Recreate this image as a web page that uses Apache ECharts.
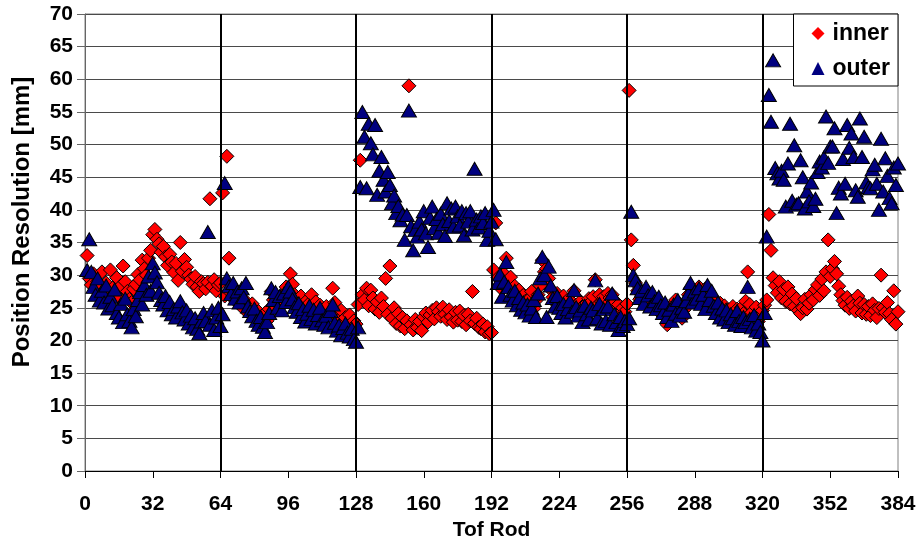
<!DOCTYPE html>
<html>
<head>
<meta charset="utf-8">
<title>Tof Rod Position Resolution</title>
<script src="https://cdn.jsdelivr.net/npm/echarts@6/dist/echarts.min.js"></script>
<style>
  html, body { margin: 0; padding: 0; background: #fff; }
  #chart { width: 920px; height: 547px; }
</style>
</head>
<body>
<div id="chart"></div>
<script>
// Position resolution per TOF rod (rods 1..384), inner and outer readout
const innerRes = [
  33.0, 29.5, 28.5, 30.2, 27.8, 29.0, 28.3, 30.5, 27.6, 28.8, 26.9, 30.8, 28.0, 27.2, 29.6, 26.5,
  28.4, 31.4, 29.0, 27.5, 26.3, 25.8, 27.9, 28.6, 30.1, 29.3, 32.3, 31.0, 30.0, 32.6, 33.8, 36.2,
  37.0, 35.5, 34.8, 33.5, 34.4, 32.8, 31.5, 33.2, 32.0, 30.4, 31.8, 29.2, 35.0, 30.6, 32.4, 31.2,
  30.0, 29.4, 28.6, 29.8, 28.2, 27.5, 29.0, 28.7, 27.9, 28.9, 41.7, 28.3, 29.3, 27.6, 28.5, 28.8,
  42.6, 26.8, 48.2, 32.6, 27.2, 26.4, 27.0, 25.8, 26.3, 25.5, 24.8, 26.0, 25.2, 24.6, 25.6, 24.3,
  23.8, 24.4, 23.6, 22.8, 24.2, 23.0, 24.8, 27.5, 26.2, 25.0, 26.6, 25.4, 27.0, 26.0, 28.2, 27.3,
  30.2, 28.6, 27.0, 26.1, 25.5, 26.8, 25.2, 24.6, 26.2, 25.7, 27.0, 24.8, 25.9, 24.2, 25.4, 23.9,
  24.7, 25.2, 23.6, 24.4, 28.0, 25.8, 24.1, 23.2, 24.6, 22.8, 23.5, 22.4, 23.9, 22.1, 23.0, 22.5,
  25.5, 47.6, 27.0, 26.2, 28.0, 25.3, 27.7, 26.5, 24.8, 25.9, 24.3, 26.5, 25.2, 29.5, 24.0, 31.4,
  23.4, 25.0, 22.6, 24.1, 22.2, 23.5, 21.8, 23.0, 59.0, 22.4, 21.6, 23.2, 22.0, 22.9, 21.5, 23.6,
  24.2, 22.8, 23.9, 24.6, 23.3, 25.0, 24.4, 23.7, 25.1, 24.0, 23.2, 24.7, 23.6, 22.8, 24.3, 23.1,
  24.5, 22.9, 23.8, 22.4, 24.0, 23.0, 27.5, 22.6, 23.4, 22.0, 21.8, 22.5, 21.3, 22.1, 21.0, 21.2,
  30.8, 38.0, 29.6, 28.5, 27.8, 30.2, 32.6, 28.9, 29.7, 27.4, 28.3, 26.5, 27.7, 25.6, 26.9, 26.0,
  25.3, 26.4, 27.5, 24.9, 26.1, 27.0, 28.4, 32.3, 30.5, 31.0, 29.5, 27.8, 26.6, 25.8, 27.2, 26.3,
  25.5, 26.8, 25.0, 26.2, 24.7, 25.9, 27.6, 25.4, 24.8, 26.0, 25.2, 24.5, 25.7, 26.4, 25.9, 26.7,
  29.3, 25.4, 27.0, 25.9, 26.7, 25.3, 27.2, 26.5, 27.0, 25.8, 24.6, 25.5, 24.2, 25.0, 24.4, 25.6,
  58.3, 35.4, 31.5, 28.8, 27.6, 26.3, 27.2, 25.9, 26.8, 27.4, 25.5, 26.6, 25.0, 26.2, 24.4, 25.6,
  24.8, 23.6, 22.4, 24.0, 25.3, 24.6, 26.2, 25.1, 24.3, 23.4, 24.7, 25.8, 27.0, 28.0, 26.4, 27.5,
  26.8, 28.2, 27.3, 26.5, 27.9, 25.8, 26.9, 25.4, 26.3, 25.0, 24.6, 25.7, 24.2, 25.3, 24.7, 23.9,
  24.5, 25.2, 23.8, 24.8, 23.5, 25.0, 24.1, 26.0, 30.5, 25.5, 24.3, 23.6, 25.1, 22.9, 23.8, 24.6,
  25.4, 26.2, 39.3, 33.8, 29.6, 28.4, 27.3, 29.0, 26.5, 27.8, 26.0, 28.2, 25.6, 27.1, 25.2, 26.4,
  24.6, 24.1, 25.0, 26.3, 24.8, 25.7, 27.0, 26.2, 27.8, 28.5, 26.9, 29.4, 27.6, 30.5, 35.4, 29.8,
  31.0, 32.1, 30.2, 28.3, 27.0, 26.1, 25.4, 26.6, 24.9, 26.0, 25.3, 24.5, 26.8, 25.7, 24.2, 25.5,
  24.0, 25.2, 23.8, 25.6, 24.6, 23.5, 24.9, 30.0, 25.0, 24.3, 25.8, 24.1, 23.2, 27.6, 22.5, 24.4
];

const outerRes = [
  30.8, 35.5, 30.5, 28.2, 27.0, 29.5, 26.1, 27.6, 25.8, 28.4, 24.9, 26.7, 25.4, 27.8, 24.2, 23.5,
  25.6, 22.8, 26.4, 24.0, 23.0, 22.0, 24.8, 23.7, 26.2, 27.4, 25.5, 28.5, 27.0, 29.8, 27.6, 31.8,
  30.4, 28.9, 27.3, 26.2, 25.5, 26.8, 24.6, 25.9, 24.0, 24.8, 23.5, 25.2, 26.0, 24.3, 23.2, 24.6,
  22.6, 23.8, 22.0, 23.4, 21.8, 21.1, 22.9, 24.2, 23.0, 36.6, 22.4, 24.6, 21.6, 23.5, 25.0, 22.2,
  24.0, 44.1, 29.5, 28.3, 27.1, 28.8, 26.4, 27.5, 25.8, 28.0, 26.6, 28.8, 25.2, 24.5, 23.7, 24.9,
  23.0, 22.4, 23.6, 22.1, 21.3, 22.8, 24.2, 28.0, 26.2, 27.4, 25.0, 26.8, 24.6, 27.2, 25.9, 28.2,
  27.5, 26.3, 25.1, 24.4, 25.7, 23.6, 24.8, 22.9, 24.1, 25.3, 23.3, 24.7, 22.6, 23.9, 25.0, 23.1,
  22.4, 23.8, 22.0, 24.5, 25.5, 22.7, 21.5, 22.3, 20.8, 21.9, 22.6, 21.2, 20.6, 21.8, 20.2, 19.8,
  22.0, 43.5, 55.0, 51.2, 43.3, 53.2, 50.2, 48.5, 53.0, 42.3, 46.0, 48.1, 44.6, 42.8, 45.8, 43.8,
  41.0, 42.2, 39.5, 40.6, 38.4, 39.3, 35.4, 39.2, 55.2, 37.5, 33.8, 36.9, 35.9, 38.2, 37.0, 39.8,
  36.4, 34.3, 38.8, 40.5, 37.2, 38.6, 36.5, 39.4, 37.8, 36.0, 41.0, 38.3, 40.2, 37.4, 40.5, 39.0,
  37.6, 39.8, 36.1, 39.5, 38.2, 39.8, 37.0, 46.3, 38.5, 37.3, 39.0, 38.0, 39.5, 35.4, 36.8, 38.2,
  40.0, 35.5, 28.8, 30.1, 26.7, 29.0, 32.0, 28.2, 27.0, 26.1, 27.6, 25.4, 26.5, 24.7, 25.8, 24.3,
  25.5, 23.8, 24.9, 26.2, 23.6, 27.2, 29.5, 32.8, 30.0, 23.6, 31.3, 28.4, 26.5, 25.2, 26.8, 25.0,
  24.2, 25.6, 23.5, 24.8, 26.0, 24.4, 27.7, 25.1, 23.8, 24.6, 22.8, 25.3, 24.0, 23.2, 25.0, 24.6,
  29.2, 23.4, 25.6, 22.6, 24.8, 23.0, 25.2, 22.4, 27.2, 24.0, 22.8, 21.6, 23.6, 22.2, 23.0, 22.5,
  23.4, 39.7, 30.0, 29.2, 28.0, 26.5, 27.6, 25.6, 28.2, 26.9, 25.2, 27.4, 26.0, 24.8, 26.7, 25.4,
  24.2, 25.8, 23.6, 24.7, 23.0, 25.5, 24.1, 26.2, 23.8, 25.0, 24.4, 26.0, 27.2, 28.8, 25.8, 27.5,
  26.4, 28.0, 25.6, 27.0, 24.8, 28.5, 26.2, 27.6, 25.3, 24.2, 25.8, 23.5, 24.9, 23.2, 24.6, 22.8,
  24.0, 23.4, 22.4, 24.5, 23.0, 22.2, 23.6, 22.8, 28.2, 23.3, 22.0, 23.9, 21.5, 22.6, 21.3, 20.0,
  24.2, 35.9, 57.6, 53.5, 62.9, 46.4, 45.6, 44.8, 46.0, 44.6, 40.5, 47.1, 53.2, 41.4, 49.9, 40.8,
  41.0, 47.6, 45.0, 40.2, 42.8, 41.3, 44.2, 40.6, 41.7, 45.8, 47.4, 46.5, 48.0, 54.3, 47.2, 49.7,
  49.7, 52.5, 39.5, 43.4, 42.5, 47.8, 44.0, 53.0, 49.5, 51.7, 48.1, 43.0, 42.0, 54.0, 48.1, 51.2,
  44.2, 43.5, 43.3, 46.2, 46.9, 44.0, 40.0, 50.9, 42.8, 47.9, 45.2, 41.8, 41.0, 46.5, 43.8, 47.1
];

// Sector boundaries drawn as vertical dividers
const sectorEdges = [64, 128, 192, 256, 320];

const seriesNames = ['inner', 'outer'];

const FONT = '"Liberation Sans", Arial, sans-serif';

const toPoints = (vals) => vals.map((v, i) => [i + 1, v]);

const chart = echarts.init(document.getElementById('chart'), null, { renderer: 'canvas' });

chart.setOption({
  animation: false,
  backgroundColor: '#ffffff',
  grid: {
    left: 85, right: 22, top: 14, bottom: 76,
    show: true, borderColor: '#808080', borderWidth: 1, backgroundColor: '#ffffff'
  },
  legend: {
    orient: 'vertical',
    right: 22, top: 14,
    backgroundColor: '#ffffff',
    borderColor: '#000000', borderWidth: 1,
    padding: [8, 8, 6, 18],
    itemGap: 12,
    itemWidth: 13, itemHeight: 13,
    textStyle: { fontFamily: FONT, fontWeight: 'bold', fontSize: 23, color: '#000', padding: [0, 0, 0, 3] },
    data: [
      { name: seriesNames[0], icon: 'diamond', itemStyle: { borderWidth: 0 } },
      { name: seriesNames[1], icon: 'triangle', itemStyle: { borderWidth: 0 } }
    ]
  },
  xAxis: {
    type: 'value',
    min: 0, max: 384, interval: 32,
    name: 'Tof Rod',
    nameLocation: 'middle',
    nameGap: 48,
    nameTextStyle: { fontFamily: FONT, fontWeight: 'bold', fontSize: 21, color: '#000' },
    axisLine: { show: true, onZero: false, lineStyle: { color: '#000', width: 1 } },
    axisTick: { show: true, inside: false, length: 7, lineStyle: { color: '#000' } },
    axisLabel: { margin: 23, fontFamily: FONT, fontWeight: 'bold', fontSize: 21, color: '#000' },
    splitLine: { show: false }
  },
  yAxis: {
    type: 'value',
    min: 0, max: 70, interval: 5,
    axisLine: { show: true, onZero: false, lineStyle: { color: '#666', width: 1 } },
    axisTick: { show: true, inside: false, length: 8, lineStyle: { color: '#666' } },
    axisLabel: { margin: 12, fontFamily: FONT, fontWeight: 'bold', fontSize: 21, color: '#000' },
    splitLine: { show: true, lineStyle: { color: '#4a4a4a', width: 1 } }
  },
  graphic: [{
    type: 'text',
    x: 22, y: 222,
    rotation: Math.PI / 2,
    style: {
      text: 'Position Resolution [mm]',
      font: 'bold 24px ' + FONT,
      fill: '#000',
      textAlign: 'center',
      textVerticalAlign: 'middle'
    }
  }],
  series: [
    {
      type: 'line',
      data: [],
      z: 1,
      silent: true,
      markLine: {
        silent: true,
        symbol: 'none',
        label: { show: false },
        lineStyle: { color: '#000', width: 2, type: 'solid' },
        data: sectorEdges.map(x => ({ xAxis: x }))
      }
    },
    {
      name: seriesNames[0],
      type: 'scatter',
      z: 2,
      symbol: 'diamond',
      symbolSize: 14,
      itemStyle: { color: '#ff0000', borderColor: '#000', borderWidth: 1, opacity: 1 },
      data: toPoints(innerRes)
    },
    {
      name: seriesNames[1],
      type: 'scatter',
      z: 3,
      symbol: 'triangle',
      symbolSize: [15, 13],
      itemStyle: { color: '#000080', borderColor: '#000', borderWidth: 1, opacity: 1 },
      data: toPoints(outerRes)
    }
  ]
});
</script>
</body>
</html>
